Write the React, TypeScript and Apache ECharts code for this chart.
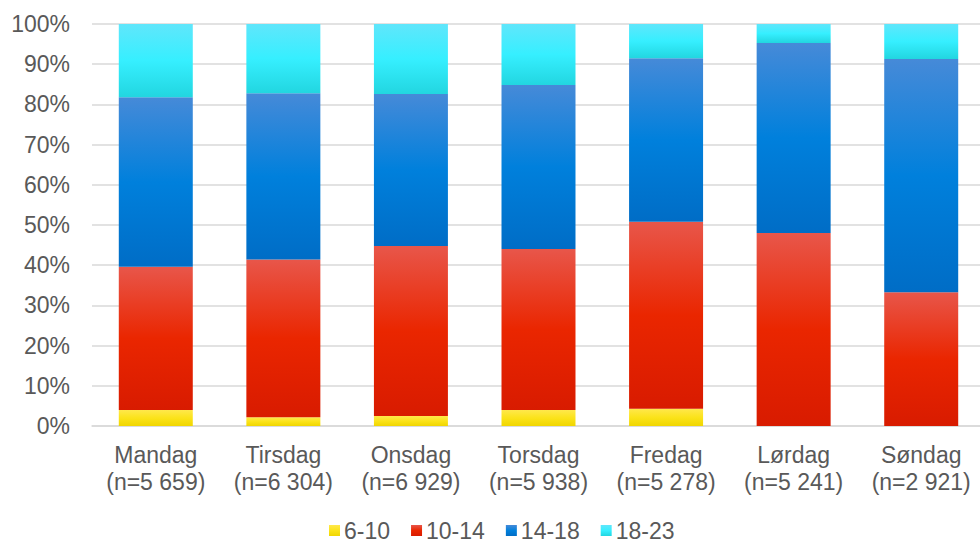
import React, { useEffect, useRef } from "react";
import * as echarts from "echarts";

const days = ["Mandag", "Tirsdag", "Onsdag", "Torsdag", "Fredag", "Lørdag", "Søndag"];
const counts = ["5 659", "6 304", "6 929", "5 938", "5 278", "5 241", "2 921"];
const seriesNames = ["6-10", "10-14", "14-18", "18-23"];
const v6to10 = [4.0, 2.2, 2.5, 4.0, 4.3, 0, 0];
const v10to14 = [35.6, 39.2, 42.3, 40.0, 46.5, 48.0, 33.3];
const v14to18 = [42.2, 41.4, 37.8, 40.8, 40.7, 47.3, 58.0];
const v18to23 = [18.2, 17.2, 17.4, 15.2, 8.5, 4.7, 8.7];

const gradients: string[][] = [
  ["#ffe84c", "#fbe31a", "#f0d600"],
  ["#e8564a", "#ea2600", "#d81b00"],
  ["#468ad8", "#0080dc", "#006dc6"],
  ["#60e6fb", "#36efff", "#22d6e0"],
];

const FONT = "'Liberation Sans', Arial, sans-serif";

export default function App() {
  const ref = useRef<HTMLDivElement>(null);
  useEffect(() => {
    if (!ref.current) return;
    const chart = echarts.init(ref.current, undefined, { renderer: "svg" });
    const values = [v6to10, v10to14, v14to18, v18to23];
    const series = seriesNames.map((name, i) => ({
      name,
      type: "bar",
      stack: "total",
      barWidth: "58%",
      data: values[i],
      itemStyle: {
        color: new echarts.graphic.LinearGradient(0, 0, 0, 1, [
          { offset: 0, color: gradients[i][0] },
          { offset: 0.5, color: gradients[i][1] },
          { offset: 1, color: gradients[i][2] },
        ]),
      },
    }));
    chart.setOption({
      animation: false,
      backgroundColor: "#ffffff",
      textStyle: { fontFamily: FONT },
      grid: { left: 92, top: 24, width: 893, height: 402, containLabel: false },
      legend: {
        data: seriesNames,
        left: 324,
        top: 514,
        icon: "rect",
        itemWidth: 11,
        itemHeight: 11,
        itemGap: 21,
        textStyle: { fontSize: 23, color: "#595959", fontFamily: FONT, padding: [0, 0, 0, -1] },
      },
      xAxis: {
        type: "category",
        data: days.map((d, i) => d + "\n(n=" + counts[i] + ")"),
        axisTick: { show: false },
        axisLine: { lineStyle: { color: "#d9d9d9", width: 1.5 } },
        axisLabel: {
          fontSize: 23,
          color: "#595959",
          fontFamily: FONT,
          lineHeight: 27,
          margin: 15,
          interval: 0,
        },
      },
      yAxis: {
        type: "value",
        min: 0,
        max: 100,
        interval: 10,
        axisLine: { show: false },
        axisTick: { show: false },
        splitLine: { lineStyle: { color: "#d9d9d9", width: 1.5 } },
        axisLabel: {
          formatter: "{value}%",
          fontSize: 23,
          color: "#595959",
          fontFamily: FONT,
          margin: 22,
        },
      },
      series,
    });
    return () => chart.dispose();
  }, []);
  return (
    <div style={{ position: "fixed", left: 0, top: 0, width: 980, height: 543, overflow: "hidden" }}>
      <div ref={ref} style={{ width: 990, height: 543 }} />
    </div>
  );
}
